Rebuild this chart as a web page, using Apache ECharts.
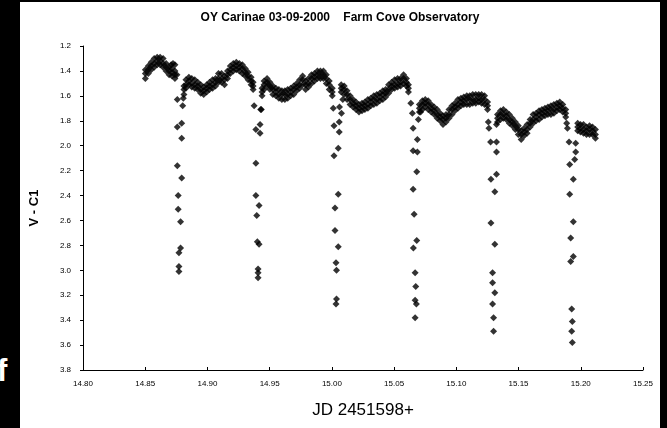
<!DOCTYPE html>
<html><head><meta charset="utf-8">
<script src="https://cdn.jsdelivr.net/npm/echarts@6/dist/echarts.min.js"></script>
<style>
html,body{margin:0;padding:0;background:#000;}
#wrap{position:relative;width:667px;height:428px;background:#000;overflow:hidden;}
#chart{position:absolute;left:20px;top:2px;width:640px;height:426px;background:#fff;}
#f{position:absolute;left:-3px;top:353px;color:#fff;font:bold 31px "Liberation Sans",Arial,sans-serif;}
</style></head>
<body><div id="wrap"><div id="f">f</div><div id="chart"></div></div>
<script>
// Light-curve continuum: JD offsets with upper, middle and lower edge of the scatter band
const baseJD = [
14.8501,14.8525,14.8548,14.8572,14.8596,14.8620,14.8644,14.8668,14.8692,14.8715,14.8739,
14.8811,14.8827,14.8851,14.8874,14.8898,14.8922,14.8946,14.8970,14.8994,14.9017,14.9041,14.9065,14.9089,14.9113,14.9137,14.9161,14.9184,14.9208,14.9232,14.9256,14.9280,14.9304,14.9327,14.9351,14.9367,
14.9439,14.9455,14.9479,14.9502,14.9526,14.9550,14.9574,14.9598,14.9622,14.9645,14.9669,14.9693,14.9717,14.9741,14.9765,14.9789,14.9812,14.9836,14.9860,14.9884,14.9908,14.9932,14.9955,14.9979,15.0003,
15.0075,15.0099,15.0122,15.0146,15.0170,15.0194,15.0218,15.0242,15.0265,15.0289,15.0313,15.0337,15.0361,15.0385,15.0409,15.0432,15.0456,15.0480,15.0504,15.0528,15.0552,15.0576,15.0599,15.0615,
15.0703,15.0727,15.0750,15.0774,15.0798,15.0822,15.0846,15.0870,15.0893,15.0917,15.0941,15.0965,15.0989,15.1013,15.1037,15.1060,15.1084,15.1108,15.1132,15.1156,15.1180,15.1203,15.1227,15.1251,
15.1331,15.1355,15.1378,15.1402,15.1426,15.1450,15.1474,15.1498,15.1521,15.1545,15.1569,15.1593,15.1617,15.1641,15.1665,15.1688,15.1712,15.1736,15.1760,15.1784,15.1808,15.1831,15.1855,15.1879,
15.1975,15.1998,15.2022,15.2046,15.2070,15.2094,15.2118];
const baseHigh = [
1.39,1.36,1.33,1.30,1.29,1.29,1.30,1.34,1.37,1.38,1.40,
1.52,1.47,1.45,1.46,1.47,1.49,1.51,1.53,1.51,1.49,1.47,1.46,1.42,1.42,1.44,1.40,1.36,1.34,1.33,1.34,1.35,1.38,1.41,1.45,1.49,
1.54,1.48,1.46,1.49,1.52,1.54,1.55,1.56,1.56,1.55,1.54,1.52,1.50,1.47,1.44,1.48,1.46,1.43,1.42,1.40,1.40,1.40,1.43,1.48,1.54,
1.51,1.52,1.56,1.60,1.63,1.65,1.67,1.66,1.65,1.63,1.62,1.60,1.59,1.58,1.56,1.55,1.51,1.49,1.47,1.46,1.46,1.43,1.46,1.51,
1.67,1.64,1.63,1.64,1.67,1.69,1.71,1.74,1.76,1.75,1.71,1.68,1.66,1.63,1.62,1.61,1.60,1.60,1.59,1.59,1.59,1.59,1.60,1.65,
1.75,1.72,1.71,1.73,1.75,1.78,1.81,1.84,1.88,1.86,1.83,1.79,1.75,1.74,1.72,1.71,1.70,1.69,1.68,1.67,1.66,1.65,1.67,1.71,
1.82,1.83,1.83,1.85,1.84,1.85,1.87];
const baseMid = [
1.42,1.39,1.36,1.34,1.32,1.32,1.34,1.37,1.40,1.41,1.43,
1.55,1.51,1.48,1.50,1.51,1.52,1.55,1.56,1.54,1.52,1.51,1.49,1.46,1.46,1.47,1.43,1.39,1.37,1.36,1.37,1.38,1.41,1.44,1.48,1.52,
1.57,1.51,1.49,1.52,1.55,1.57,1.59,1.59,1.59,1.59,1.57,1.55,1.53,1.51,1.47,1.51,1.50,1.46,1.45,1.43,1.43,1.43,1.46,1.51,1.57,
1.54,1.55,1.59,1.63,1.66,1.68,1.70,1.69,1.68,1.67,1.65,1.63,1.63,1.61,1.59,1.58,1.55,1.52,1.51,1.50,1.49,1.46,1.49,1.54,
1.70,1.67,1.66,1.67,1.70,1.72,1.75,1.77,1.79,1.78,1.75,1.71,1.69,1.67,1.65,1.64,1.63,1.63,1.63,1.63,1.62,1.63,1.63,1.68,
1.78,1.75,1.75,1.76,1.79,1.81,1.84,1.87,1.91,1.89,1.87,1.82,1.79,1.77,1.75,1.74,1.73,1.72,1.71,1.71,1.69,1.68,1.70,1.74,
1.85,1.86,1.87,1.88,1.87,1.88,1.91];
const baseLow = [
1.46,1.42,1.39,1.37,1.35,1.35,1.37,1.40,1.43,1.44,1.46,
1.59,1.54,1.51,1.53,1.54,1.55,1.58,1.59,1.57,1.55,1.54,1.52,1.49,1.49,1.51,1.46,1.42,1.40,1.39,1.40,1.42,1.44,1.47,1.51,1.55,
1.60,1.55,1.52,1.55,1.59,1.60,1.62,1.63,1.63,1.62,1.60,1.59,1.56,1.54,1.51,1.55,1.53,1.50,1.48,1.46,1.46,1.46,1.50,1.55,1.60,
1.57,1.59,1.63,1.67,1.69,1.71,1.73,1.72,1.71,1.70,1.68,1.67,1.66,1.64,1.63,1.61,1.58,1.55,1.54,1.53,1.52,1.50,1.52,1.57,
1.73,1.71,1.69,1.71,1.73,1.75,1.78,1.80,1.83,1.81,1.78,1.75,1.72,1.70,1.68,1.67,1.67,1.67,1.66,1.66,1.65,1.66,1.67,1.71,
1.81,1.79,1.78,1.79,1.82,1.84,1.87,1.91,1.95,1.92,1.90,1.85,1.82,1.80,1.79,1.77,1.76,1.75,1.75,1.74,1.72,1.71,1.73,1.77,
1.88,1.89,1.90,1.91,1.91,1.91,1.94];
// Isolated points (eclipses and small bumps): JD offset, V - C1
const extraJD = [
14.8708,14.8723,14.8739,14.8755,
14.8758,14.8801,14.8793,14.8758,14.8793,14.8758,14.8793,14.8765,14.8765,14.8784,14.8784,14.8771,14.8771,14.8771,14.8806,
14.9375,14.9433,14.9423,14.9389,14.9423,14.9389,14.9389,14.9415,14.9396,14.9401,14.9415,14.9407,14.9407,14.9407,14.9428,
15.0011,15.0077,15.0059,15.0017,15.0059,15.0051,15.0017,15.0051,15.0025,15.0025,15.0051,15.0033,15.0037,15.0037,15.0033,15.0061,15.0088,
15.0634,15.0647,15.0653,15.0695,15.0687,15.0653,15.0687,15.0682,15.0653,15.0661,15.0682,15.0655,15.0669,15.0674,15.0669,15.0679,15.0669,15.0713,
15.1257,15.1262,15.1275,15.1323,15.1323,15.1278,15.1323,15.1309,15.1278,15.1309,15.1291,15.1291,15.1309,15.1291,15.1299,15.1299,15.1323,
15.1887,15.1893,15.1906,15.1959,15.1959,15.1951,15.1911,15.1940,15.1911,15.1940,15.1919,15.1940,15.1919,15.1927,15.1932,15.1927,15.1932];
const extraV = [
1.35,1.34,1.35,1.43,
1.63,1.68,1.82,1.85,1.94,2.16,2.26,2.40,2.51,2.61,2.82,2.86,2.97,3.01,1.62,
1.68,1.71,1.83,1.87,1.90,2.14,2.40,2.48,2.56,2.77,2.79,2.99,3.02,3.06,1.71,
1.70,1.74,1.81,1.84,1.89,2.02,2.08,2.39,2.50,2.68,2.81,2.94,3.00,3.23,3.27,1.69,1.63,
1.66,1.74,1.86,1.79,1.95,2.04,2.05,2.21,2.35,2.55,2.76,2.82,3.02,3.13,3.24,3.27,3.38,1.73,
1.81,1.86,1.97,1.97,2.05,2.27,2.23,2.37,2.62,2.79,3.02,3.10,3.18,3.27,3.38,3.49,1.83,
1.82,1.86,1.97,1.98,2.05,2.11,2.15,2.27,2.39,2.61,2.74,2.89,2.93,3.31,3.41,3.49,3.58];

const pts = [];
baseJD.forEach((x, i) => { pts.push([x, baseHigh[i]], [x, baseMid[i]], [x, baseLow[i]]); });
extraJD.forEach((x, i) => pts.push([x, extraV[i]]));

const FONT = '"Liberation Sans", Arial, sans-serif';
const chart = echarts.init(document.getElementById('chart'), null, {renderer: 'canvas'});
chart.setOption({
  animation: false,
  backgroundColor: '#fff',
  title: {
    text: 'OY Carinae 03-09-2000    Farm Cove Observatory',
    left: 'center', top: 5,
    textStyle: {fontFamily: FONT, fontSize: 12, fontWeight: 'bold', color: '#000'}
  },
  grid: {left: 57, right: 17, top: 44, bottom: 58},
  xAxis: {
    type: 'value', min: 14.80, max: 15.25, interval: 0.05,
    name: 'JD 2451598+', nameLocation: 'middle', nameGap: 32,
    nameTextStyle: {fontFamily: FONT, fontSize: 17, color: '#000', verticalAlign: 'top'},
    axisLine: {lineStyle: {color: '#000', width: 1}},
    axisTick: {inside: true, length: 3, lineStyle: {color: '#000'}},
    axisLabel: {formatter: v => v.toFixed(2), fontFamily: FONT, fontSize: 8, color: '#000', margin: 10},
    splitLine: {show: false}
  },
  yAxis: {
    type: 'value', inverse: true, min: 1.2, max: 3.8, interval: 0.2,
    name: 'V - C1', nameLocation: 'middle', nameGap: 42, nameRotate: 90,
    nameTextStyle: {fontFamily: FONT, fontSize: 13, fontWeight: 'bold', color: '#000'},
    axisLine: {show: true, lineStyle: {color: '#000', width: 1}},
    axisTick: {show: true, length: 3, lineStyle: {color: '#000'}},
    axisLabel: {formatter: v => v.toFixed(1), fontFamily: FONT, fontSize: 8, color: '#000', margin: 12},
    splitLine: {show: false}
  },
  series: [{
    type: 'scatter', data: pts, symbol: 'diamond', symbolSize: 7,
    itemStyle: {color: '#000'}
  }]
});
</script></body></html>
